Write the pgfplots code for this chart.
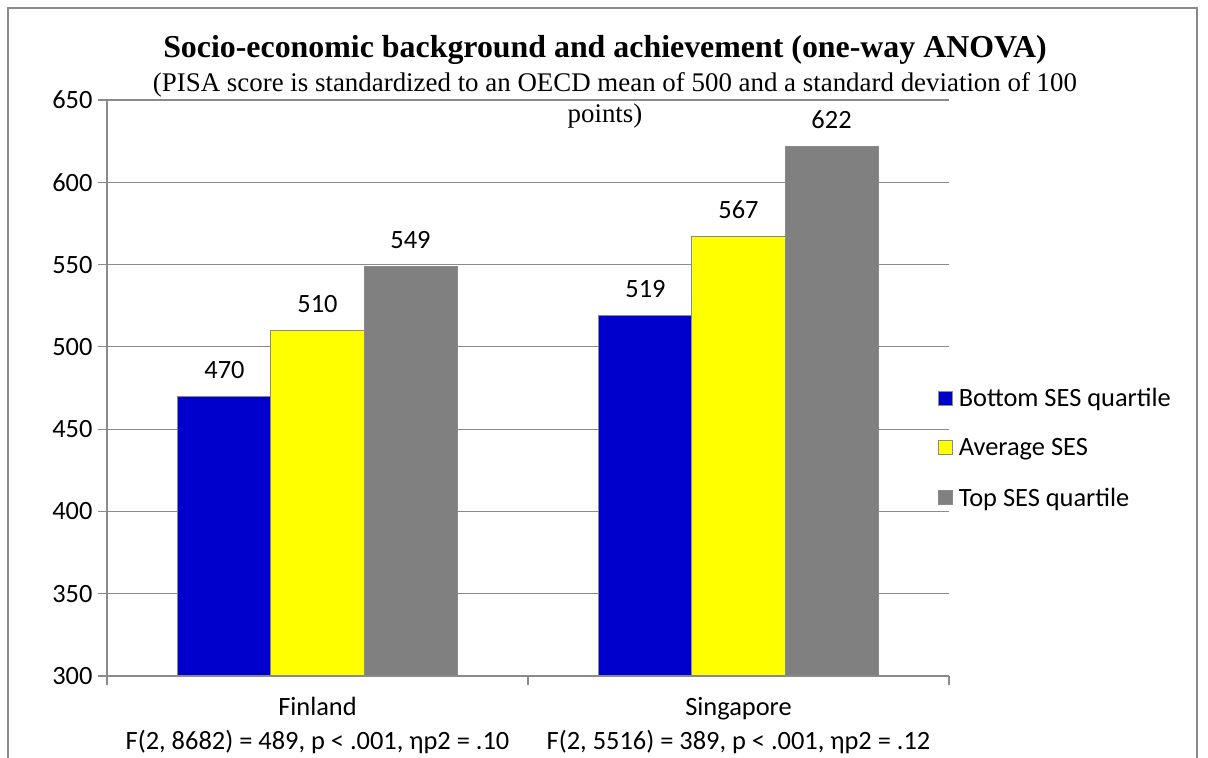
\documentclass[border=0pt]{standalone}
\usepackage{fontspec}
\setmainfont{Carlito}
\newfontfamily\serif{Liberation Serif}
\usepackage{pgfplots}
\pgfplotsset{compat=1.18}
\definecolor{barBlue}{HTML}{0000CC}
\definecolor{barYellow}{HTML}{FFFF00}
\definecolor{barGray}{HTML}{808080}
\definecolor{lineGray}{HTML}{8A8A8A}
\newcommand{\lab}{\fontsize{26.5}{31}\selectfont}

\begin{document}
\begin{tikzpicture}[x=1bp,y=1bp]
\useasboundingbox (0,0) rectangle (1208,758);
% outer chart frame
\draw[lineGray, line width=1.5bp] (8,0) -- (8,750) -- (1197,750) -- (1197,0);
% titles
\node[font=\serif\bfseries\fontsize{32}{36}\selectfont, anchor=base, inner sep=0pt] at (605,700)
  {Socio-economic background and achievement (one-way ANOVA)};
\node[font=\serif\fontsize{27}{31}\selectfont, anchor=base, inner sep=0pt] at (615,666)
  {(PISA score is standardized to an OECD mean of 500 and a standard deviation of 100};
\node[font=\serif\fontsize{27}{31}\selectfont, anchor=base, inner sep=0pt] at (605,635)
  {points)};

\begin{axis}[
  at={(107bp,82bp)}, anchor=south west,
  scale only axis, width=842bp, height=576bp,
  xmin=0, xmax=2, ymin=300, ymax=650,
  ytick={300,350,...,650},
  ymajorgrids, grid style={lineGray, line width=1.2bp},
  axis x line*=bottom, axis y line*=left,
  axis line style={lineGray, line width=1.2bp, -},
  tick align=outside, major tick length=9bp, minor tick length=9bp,
  major y tick style={lineGray, line width=1.2bp},
  xtick={0.5,1.5},
  xticklabels={Finland, Singapore},
  major x tick style={draw=none},
  minor xtick={0,1,2},
  minor x tick style={lineGray, line width=1.2bp},
  extra x ticks={0.5,1.5},
  extra x tick labels={{F(2, 8682) = 489, p < .001, ηp2 = .10},{F(2, 5516) = 389, p < .001, ηp2 = .12}},
  extra x tick style={major x tick style={draw=none}, xticklabel style={yshift=-34bp}},
  ticklabel style={font=\lab},
  /pgf/number format/assume math mode=true,
  xticklabel style={anchor=base, yshift=-31bp},
  yticklabel style={xshift=-2bp},
  ybar, bar width=0.221,
  nodes near coords,
  every node near coord/.append style={font=\lab, anchor=base, yshift=18bp, inner sep=0pt},
  legend style={at={(0.987,0.396)}, anchor=west, draw=none, fill=none, font=\lab,
    row sep=30.5bp, inner sep=0pt, legend cell align=left,
    nodes={inner sep=0pt, inner xsep=5.5bp}},
  legend image code/.code={\draw[#1, draw=lineGray, line width=1bp] (0bp,-7bp) rectangle (14bp,7bp);},
]
\addplot[fill=barBlue, draw=lineGray, line width=1bp, bar shift=-0.221]
  coordinates {(0.5,470) (1.5,519)};
\addplot[fill=barYellow, draw=lineGray, line width=1bp, bar shift=0]
  coordinates {(0.5,510) (1.5,567)};
\addplot[fill=barGray, draw=lineGray, line width=1bp, bar shift=0.221]
  coordinates {(0.5,549) (1.5,622)};
\legend{Bottom SES quartile, Average SES, Top SES quartile}
\end{axis}
\end{tikzpicture}
\end{document}
